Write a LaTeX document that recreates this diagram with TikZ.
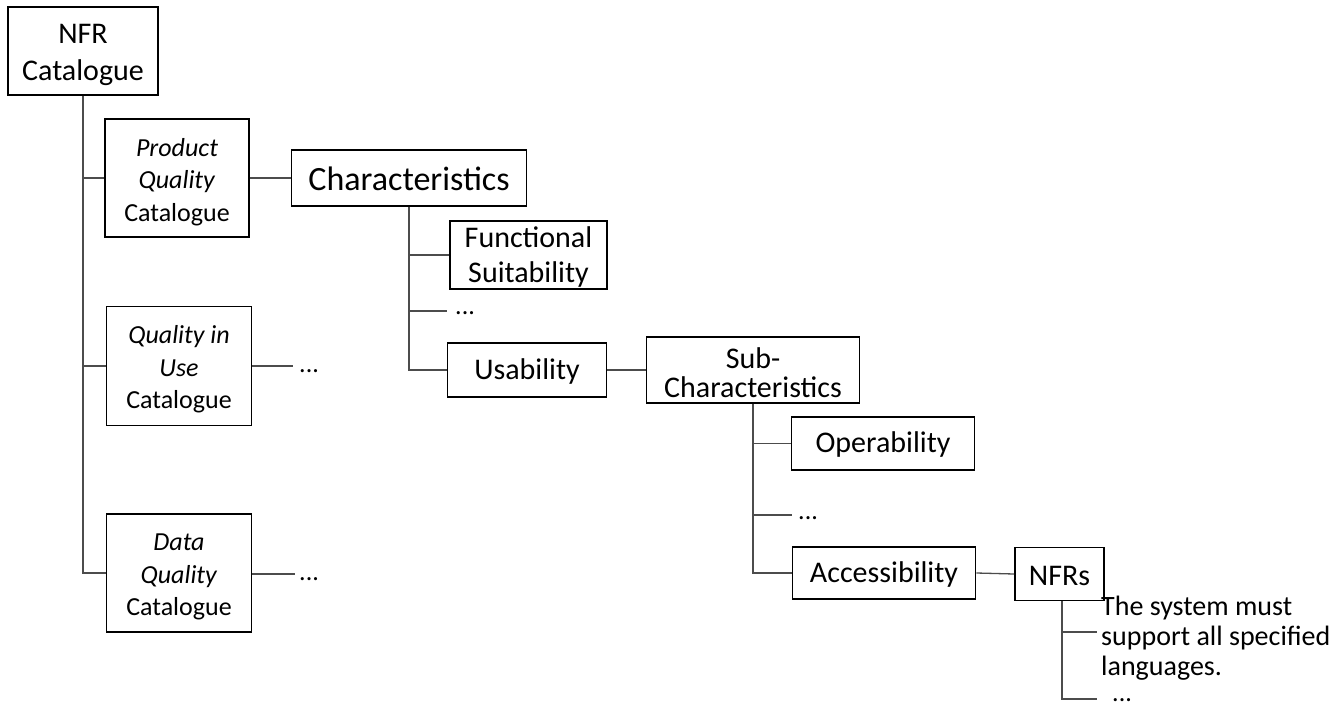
\documentclass[tikz,border=0pt]{standalone}
\usepackage{fontspec}
\setmainfont{Carlito}
% invisible strut that adds room above the first text line
\newcommand\topgap[1]{\rule{0pt}{#1}}
\begin{document}
\begin{tikzpicture}[x=1pt,y=-1pt,
  box/.style={draw=black,line width=1.8pt,rectangle,inner sep=0pt,align=center},
  link/.style={draw=black!70,line width=1.3pt},
  more/.style={anchor=west,inner sep=0pt,font=\fontsize{26}{30}\selectfont},
  f30/.style={font=\fontsize{30}{35}\selectfont}]
\useasboundingbox (0,0) rectangle (1343,706);

% catalogue level
\node[box,minimum width=150,minimum height=88,font=\fontsize{30}{37}\selectfont] (nfr) at (83,51) {\topgap{27pt}NFR\\Catalogue};
\node[box,minimum width=144,minimum height=118,font=\fontsize{26}{32.5}\selectfont] (pq) at (177,178) {\topgap{26pt}\textit{Product}\\\textit{Quality}\\Catalogue};
\node[box,minimum width=145,minimum height=119,font=\fontsize{26}{32.5}\selectfont] (qu) at (179,366) {\topgap{25pt}\textit{Quality in}\\\textit{Use}\\Catalogue};
\node[box,minimum width=145,minimum height=118,font=\fontsize{26}{32.5}\selectfont] (dq) at (179,573) {\topgap{25pt}\textit{Data}\\\textit{Quality}\\Catalogue};

% characteristics level
\node[box,minimum width=235,minimum height=56,font=\fontsize{34}{40}\selectfont] (ch) at (409,178) {\topgap{26pt}Characteristics};
\node[box,f30,minimum width=157,minimum height=68] (fs) at (528.5,255) {\topgap{24pt}Functional\\Suitability};
\node[box,f30,minimum width=159,minimum height=54] (us) at (527,370) {\topgap{23pt}Usability};

% sub-characteristics level
\node[box,minimum width=213,minimum height=66,font=\fontsize{30}{29}\selectfont] (sc) at (753,370) {\topgap{26pt}Sub-\\Characteristics};
\node[box,f30,minimum width=183,minimum height=53] (op) at (883,443.5) {\topgap{23pt}Operability};
\node[box,f30,minimum width=183,minimum height=52] (ac) at (884,573) {\topgap{23pt}Accessibility};

% requirements level
\node[box,f30,minimum width=89,minimum height=53] (nfrs) at (1059.5,574) {\topgap{23pt}NFRs};
\node[anchor=north west,inner sep=0pt,align=left,font=\fontsize{28}{30}\selectfont] (req) at (1101,596) {The system must\\support all specified\\languages.};

% free ends of the open branches
\coordinate (qe) at (293,366);
\coordinate (de) at (295,574);
\coordinate (ce) at (447,311);
\coordinate (se) at (792,515);
\coordinate (ne) at (1097,699);
\coordinate (re) at (1097,632);

\node[more] (qd) at (299,371) {...};
\node[more] (dd) at (299,579) {...};
\node[more] (cd) at (455,313) {...};
\node[more] (sd) at (798,518) {...};
\node[more] (nd) at (1112,700) {...};

% tree connectors
\draw[link] (nfr.south) |- (dq.west);
\draw[link] (nfr.south |- pq.west) -- (pq.west);
\draw[link] (nfr.south |- qu.west) -- (qu.west);
\draw[link] (pq.east) -- (ch.west);
\draw[link] (qu.east) -- (qe);
\draw[link] (dq.east |- de) -- (de);

\draw[link] (ch.south) |- (us.west);
\draw[link] (ch.south |- fs.west) -- (fs.west);
\draw[link] (ch.south |- ce) -- (ce);
\draw[link] (us.east) -- (sc.west);

\draw[link] (sc.south) |- (ac.west);
\draw[link] (sc.south |- op.west) -- (op.west);
\draw[link] (sc.south |- se) -- (se);
\draw[link] (ac.east) -- (nfrs.west);

\draw[link] (nfrs.south -| 1062,0) |- (ne);
\draw[link] (1062,632) -- (re);
\end{tikzpicture}
\end{document}
